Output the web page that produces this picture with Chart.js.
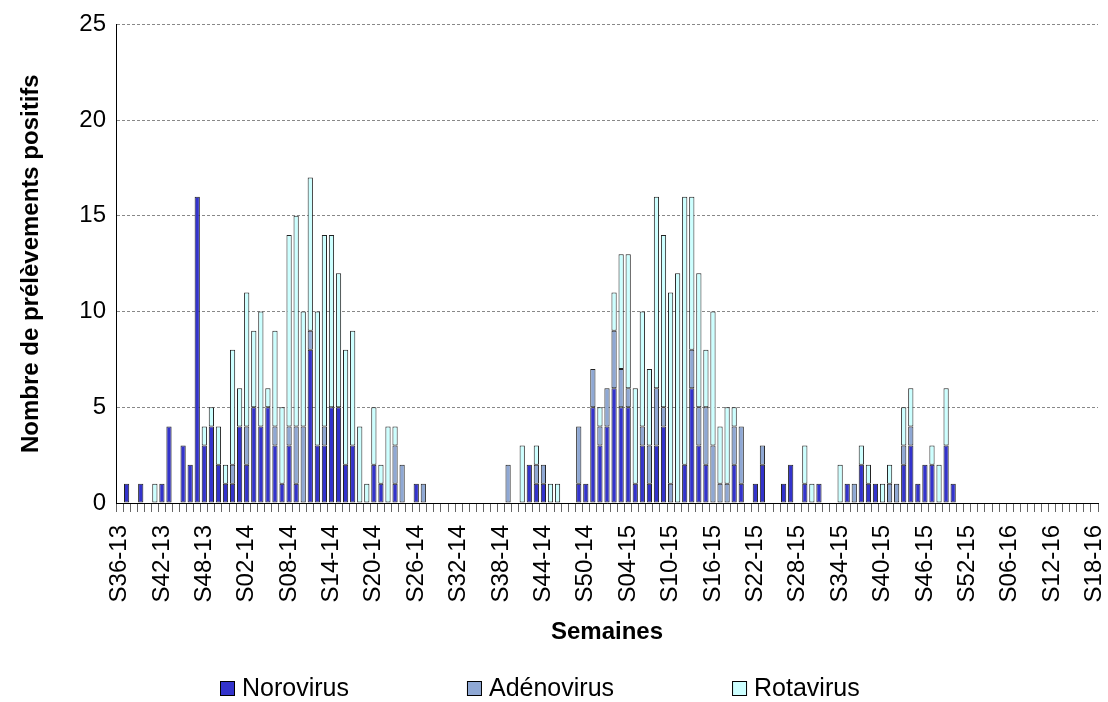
<!DOCTYPE html>
<html lang="fr">
<head>
<meta charset="utf-8">
<title>Prélèvements positifs par semaine</title>
<script src="https://cdn.jsdelivr.net/npm/chart.js@4.4.0/dist/chart.umd.min.js"></script>
<style>
  html, body { margin: 0; padding: 0; background: #fff; }
  #chart { display: block; }
</style>
</head>
<body>
<canvas id="chart" width="1108" height="702"></canvas>
<script>
// weeks S36-13 .. S18-16 (139 categories)
const weeks = [
  'S36-13','S37-13','S38-13','S39-13','S40-13','S41-13','S42-13','S43-13','S44-13','S45-13',
  'S46-13','S47-13','S48-13','S49-13','S50-13','S51-13','S52-13','S01-14','S02-14','S03-14',
  'S04-14','S05-14','S06-14','S07-14','S08-14','S09-14','S10-14','S11-14','S12-14','S13-14',
  'S14-14','S15-14','S16-14','S17-14','S18-14','S19-14','S20-14','S21-14','S22-14','S23-14',
  'S24-14','S25-14','S26-14','S27-14','S28-14','S29-14','S30-14','S31-14','S32-14','S33-14',
  'S34-14','S35-14','S36-14','S37-14','S38-14','S39-14','S40-14','S41-14','S42-14','S43-14',
  'S44-14','S45-14','S46-14','S47-14','S48-14','S49-14','S50-14','S51-14','S52-14','S01-15',
  'S02-15','S03-15','S04-15','S05-15','S06-15','S07-15','S08-15','S09-15','S10-15','S11-15',
  'S12-15','S13-15','S14-15','S15-15','S16-15','S17-15','S18-15','S19-15','S20-15','S21-15',
  'S22-15','S23-15','S24-15','S25-15','S26-15','S27-15','S28-15','S29-15','S30-15','S31-15',
  'S32-15','S33-15','S34-15','S35-15','S36-15','S37-15','S38-15','S39-15','S40-15','S41-15',
  'S42-15','S43-15','S44-15','S45-15','S46-15','S47-15','S48-15','S49-15','S50-15','S51-15',
  'S52-15','S01-16','S02-16','S03-16','S04-16','S05-16','S06-16','S07-16','S08-16','S09-16',
  'S10-16','S11-16','S12-16','S13-16','S14-16','S15-16','S16-16','S17-16','S18-16'
];

const norovirus = [
  0,1,0,1,0,0,1,4,0,3,
  2,16,3,4,2,1,1,4,2,5,
  4,5,3,1,3,1,0,8,3,3,
  5,5,2,3,0,0,2,1,0,1,
  0,0,1,0,0,0,0,0,0,0,
  0,0,0,0,0,0,0,0,2,1,
  1,0,0,0,0,1,1,5,3,4,
  6,5,5,1,3,1,3,4,0,0,
  2,6,3,2,0,0,0,2,1,0,
  1,2,0,0,1,2,0,1,0,1,
  0,0,0,1,0,2,1,1,0,0,
  0,2,3,1,2,2,0,3,1,0,
  0,0,0,0,0,0,0,0,0,0,
  0,0,0,0,0,0,0,0,0
];

const adenovirus = [
  0,0,0,0,0,0,0,0,0,0,
  0,0,0,0,0,0,1,0,2,0,
  0,0,1,0,1,3,4,1,0,1,
  0,0,0,0,0,0,0,0,0,2,
  2,0,0,1,0,0,0,0,0,0,
  0,0,0,0,0,2,0,0,0,1,
  1,0,0,0,0,3,0,2,1,2,
  3,2,1,0,1,2,3,1,1,0,
  0,2,2,3,3,1,1,2,3,0,
  0,1,0,0,0,0,0,0,0,0,
  0,0,0,0,1,0,0,0,0,1,
  1,1,1,0,0,0,0,0,0,0,
  0,0,0,0,0,0,0,0,0,0,
  0,0,0,0,0,0,0,0,0
];

const rotavirus = [
  0,0,0,0,0,1,0,0,0,0,
  0,0,1,1,2,1,6,2,7,4,
  6,1,5,4,10,11,6,8,7,10,
  9,7,6,6,4,1,3,1,4,1,
  0,0,0,0,0,0,0,0,0,0,
  0,0,0,0,0,0,0,3,0,1,
  0,1,1,0,0,0,0,0,1,0,
  2,6,7,5,6,4,10,9,10,12,
  14,8,7,3,7,3,4,1,0,0,
  0,0,0,0,0,0,0,2,1,0,
  0,0,2,0,0,1,1,0,1,1,
  0,2,2,0,0,1,2,3,0,0,
  0,0,0,0,0,0,0,0,0,0,
  0,0,0,0,0,0,0,0,0
];

const seriesNames = ['Norovirus', 'Adénovirus', 'Rotavirus'];
const seriesColors = ['#3333cc', '#8fa8d4', '#ccffff'];
const labelEvery = 6;

const tickFont = { family: '"Liberation Sans", Arial, sans-serif', size: 24 };
const titleFont = { family: '"Liberation Sans", Arial, sans-serif', size: 24, weight: 'bold' };

// legend drawn by hand, Excel spaces the items much wider than Chart.js does
const bottomLegend = {
  id: 'bottomLegend',
  afterDraw(chart) {
    const ctx = chart.ctx;
    const y = 688;
    let x = 220;
    ctx.save();
    ctx.font = '25px "Liberation Sans", Arial, sans-serif';
    ctx.textBaseline = 'middle';
    chart.data.datasets.forEach(ds => {
      ctx.fillStyle = ds.backgroundColor;
      ctx.fillRect(x, y - 7, 15, 15);
      ctx.strokeStyle = '#000';
      ctx.lineWidth = 1;
      ctx.strokeRect(x + 0.5, y - 6.5, 14, 14);
      ctx.fillStyle = '#000';
      ctx.fillText(ds.label, x + 22, y + 1);
      x += 22 + ctx.measureText(ds.label).width + 118;
    });
    ctx.restore();
  }
};

const datasets = [norovirus, adenovirus, rotavirus].map((values, i) => ({
  label: seriesNames[i],
  data: values.map(v => v || null),
  backgroundColor: seriesColors[i],
  borderColor: '#222',
  borderWidth: 1,
  borderSkipped: false,
  barPercentage: 0.74,
  categoryPercentage: 1
}));

new Chart(document.getElementById('chart').getContext('2d'), {
  type: 'bar',
  data: { labels: weeks, datasets: datasets },
  plugins: [bottomLegend],
  options: {
    responsive: false,
    animation: false,
    devicePixelRatio: 1,
    layout: { padding: { top: 14, right: 10, bottom: 39, left: 0 } },
    plugins: {
      legend: { display: false },
      tooltip: { enabled: false }
    },
    scales: {
      x: {
        stacked: true,
        afterFit: scale => {
          scale.height = 160;
          // the rotated last label should not push the plot edge
          scale.paddingLeft = 0;
          scale.paddingRight = 0;
        },
        border: { display: true, color: '#000', width: 1 },
        grid: { drawOnChartArea: false, drawTicks: true, tickLength: 9, tickColor: '#666', offset: true },
        ticks: {
          autoSkip: false,
          maxRotation: 90,
          minRotation: 90,
          padding: 13,
          color: '#000',
          font: tickFont,
          callback: function (val, idx) {
            return idx % labelEvery === 0 ? weeks[idx] : '';
          }
        },
        title: {
          display: true,
          text: 'Semaines',
          color: '#000',
          font: titleFont,
          padding: { top: 0, bottom: 16 }
        }
      },
      y: {
        stacked: true,
        min: 0,
        max: 25,
        afterFit: scale => { scale.width = 116; },
        border: { display: true, color: '#000', width: 1, dash: [3, 2] },
        grid: { color: '#888', drawTicks: false },
        ticks: { stepSize: 5, padding: 10, color: '#000', font: tickFont },
        title: {
          display: true,
          text: 'Nombre de prélèvements positifs',
          color: '#000',
          font: titleFont,
          padding: { top: 17, bottom: 0 }
        }
      }
    }
  }
});
</script>
</body>
</html>
